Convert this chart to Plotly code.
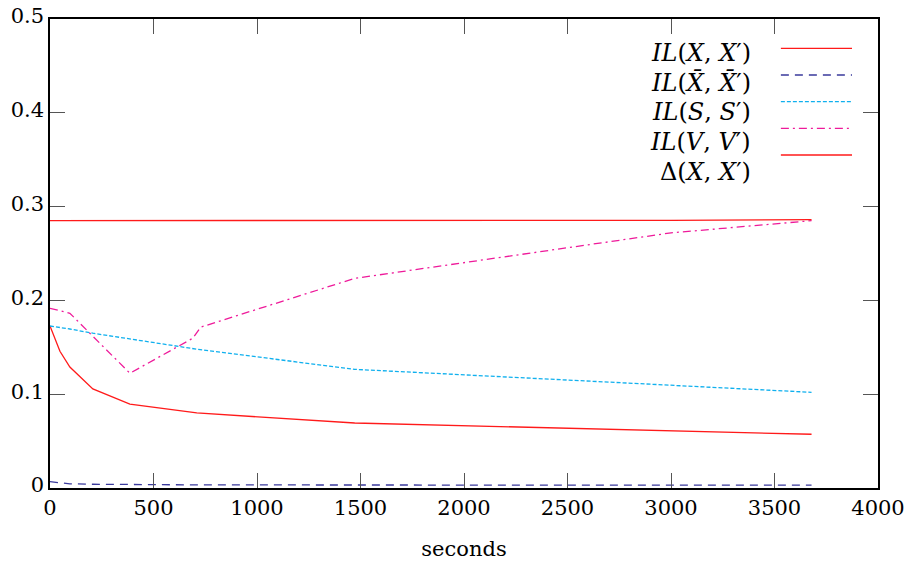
import plotly.graph_objects as go

# ---- data ----
t_common = [0, 48, 96, 207, 386, 709, 1472, 3000, 3679]
il_x = [0.1727, 0.1458, 0.129, 0.1056, 0.0895, 0.080, 0.0693, 0.0605, 0.0573]
il_xbar = [0.0067, 0.0052, 0.0045, 0.0040, 0.0035, 0.0033, 0.0032, 0.0031, 0.0030]
il_s = [0.1727, 0.1712, 0.1695, 0.1650, 0.1590, 0.1480, 0.1265, 0.1097, 0.1020]
t_v = [0, 96, 386, 690, 728, 1472, 3000, 3679]
il_v = [0.1916, 0.1863, 0.1223, 0.1597, 0.1715, 0.2235, 0.2720, 0.2850]
t_delta = [0, 3000, 3679]
delta_x = [0.2851, 0.2853, 0.2862]

x_ticks = [0, 500, 1000, 1500, 2000, 2500, 3000, 3500, 4000]
y_ticks = [0, 0.1, 0.2, 0.3, 0.4, 0.5]

legend_labels = [
    "<i>IL</i>(<i>X</i>, <i>X</i>′)",
    "<i>IL</i>(<i>X̄</i>, <i>X̄</i>′)",
    "<i>IL</i>(<i>S</i>, <i>S</i>′)",
    "<i>IL</i>(<i>V</i>, <i>V</i>′)",
    "Δ(<i>X</i>, <i>X</i>′)",
]

RED = "#ff1a1a"
BLUE = "#3a3a9c"
CYAN = "#10b0ee"
MAG = "#ee1a9a"

styles = [
    (RED, "solid"),
    (BLUE, "8px,6px"),
    (CYAN, "4px,2px"),
    (MAG, "8px,4px,2px,4px"),
    (RED, "solid"),
]

series = [
    (t_common, il_x),
    (t_common, il_xbar),
    (t_common, il_s),
    (t_v, il_v),
    (t_delta, delta_x),
]

fig = go.Figure()
for (xs, ys), (col, dash), name in zip(series, styles, legend_labels):
    fig.add_trace(go.Scatter(x=xs, y=ys, mode="lines", name=name,
                             line=dict(color=col, width=1.3, dash=dash),
                             showlegend=False))

FONT = "DejaVu Serif, Liberation Serif, serif"

# manual legend: text right-aligned, line sample to the right
text_rows = [0.9275, 0.8646, 0.8017, 0.7377, 0.6738]
line_rows = [0.9375, 0.8806, 0.8237, 0.7669, 0.7100]
for lab, ty, ly, (col, dash) in zip(legend_labels, text_rows, line_rows, styles):
    fig.add_annotation(x=0.849, y=ty, xref="paper", yref="paper",
                       text=lab, showarrow=False, xanchor="right", yanchor="middle",
                       font=dict(family=FONT, size=24, color="black"))
    fig.add_shape(type="line", xref="paper", yref="paper",
                  x0=0.8827, x1=0.9686, y0=ly, y1=ly,
                  line=dict(color=col, width=1.3, dash=dash))

axis_common = dict(showline=True, linecolor="black", linewidth=1.5, mirror="allticks",
                   ticks="inside", ticklen=15, tickcolor="#555555", tickwidth=1.2,
                   showgrid=False, zeroline=False, automargin=False,
                   tickfont=dict(family=FONT, size=21, color="black"))

fig.update_layout(
    width=906, height=562,
    margin=dict(l=50, r=28, t=19, b=74),
    plot_bgcolor="white", paper_bgcolor="white",
    font=dict(family=FONT),
    xaxis=dict(range=[0, 4000], tickvals=x_ticks,
               ticktext=[str(v) for v in x_ticks],
               title=dict(text="seconds", standoff=22,
                          font=dict(family=FONT, size=21, color="black")),
               **axis_common),
    yaxis=dict(range=[0, 0.5], tickvals=y_ticks,
               ticktext=["0", "0.1", "0.2", "0.3", "0.4", "0.5"], ticklabelshift=-3,
               **axis_common),
)

fig.write_html("out.html", config={"displayModeBar": False},
               post_script="document.body.style.margin='0';document.body.style.overflow='hidden';")
